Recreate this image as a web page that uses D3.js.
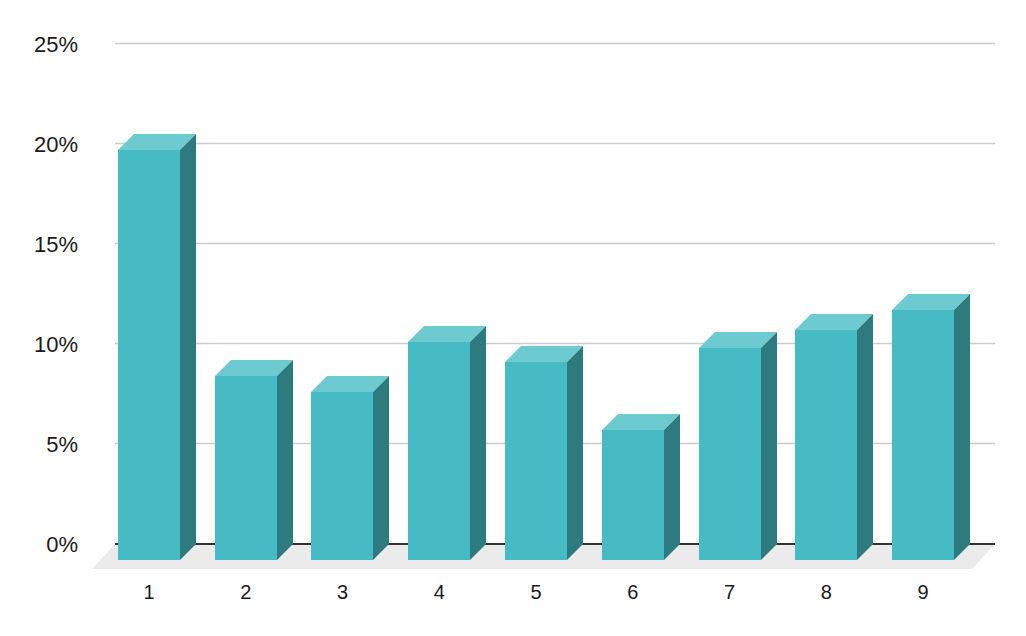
<!DOCTYPE html>
<html>
<head>
<meta charset="utf-8">
<script src="https://cdn.jsdelivr.net/npm/d3@7"></script>
<style>
  html, body { margin: 0; padding: 0; background: #fff; }
  svg { display: block; font-family: Arial, "Liberation Sans", sans-serif; }
</style>
</head>
<body>
<svg id="chart" width="1026" height="636"></svg>
<script>
const categories = ["1", "2", "3", "4", "5", "6", "7", "8", "9"];
const values = [20.5, 9.2, 8.4, 10.9, 9.9, 6.5, 10.6, 11.5, 12.5];
const yTicks = [0, 5, 10, 15, 20, 25];
const yTickLabels = ["0%", "5%", "10%", "15%", "20%", "25%"];

const svg = d3.select("#chart");
const depth = 16;
const barW = 62;
const plotLeft = 115, plotRight = 995;

const y = d3.scaleLinear().domain([0, 25]).range([544, 44]);
const x = d3.scaleBand().domain(categories).range([100.6, 971.4]).padding(0);

// gridlines
svg.append("g").selectAll("line").data(yTicks.filter(t => t > 0)).join("line")
  .attr("x1", plotLeft).attr("x2", plotRight)
  .attr("y1", d => Math.round(y(d)) - 0.5).attr("y2", d => Math.round(y(d)) - 0.5)
  .attr("stroke", "#cccccc").attr("stroke-width", 1.5);

// y labels
svg.append("g").selectAll("text").data(yTicks).join("text")
  .attr("x", 78).attr("y", d => y(d) + 7.5)
  .attr("text-anchor", "end")
  .attr("font-size", 22).attr("fill", "#1a1a1a")
  .text((d, i) => yTickLabels[i]);

// floor
const fd = 24;
svg.append("path")
  .attr("d", `M${plotLeft},${y(0)}L${plotRight},${y(0)}L${plotRight - fd + 1},${y(0) + fd + 1}L${plotLeft - fd + 1},${y(0) + fd + 1}Z`)
  .attr("fill", "#ebebeb");

// zero line
svg.append("line")
  .attr("x1", plotLeft).attr("x2", plotRight)
  .attr("y1", y(0)).attr("y2", y(0))
  .attr("stroke", "#333").attr("stroke-width", 2);

// bars
const bars = svg.append("g").selectAll("g").data(categories).join("g");
bars.each(function(c, i) {
  const g = d3.select(this);
  const xb = Math.round(x(c) + x.bandwidth() / 2 - barW / 2);
  const yf = y(values[i]) + depth;
  const yb = y(0) + depth;
  g.append("rect").attr("x", xb).attr("y", yf).attr("width", barW).attr("height", yb - yf)
    .attr("fill", "#47bbc4");
  g.append("path")
    .attr("d", `M${xb},${yf}L${xb + depth},${yf - depth}L${xb + barW + depth},${yf - depth}L${xb + barW},${yf}Z`)
    .attr("fill", "#6dcad0");
  g.append("path")
    .attr("d", `M${xb + barW},${yf}L${xb + barW + depth},${yf - depth}L${xb + barW + depth},${yb - depth}L${xb + barW},${yb}Z`)
    .attr("fill", "#2e7b7f");
});

// x labels
svg.append("g").selectAll("text").data(categories).join("text")
  .attr("x", d => x(d) + x.bandwidth() / 2)
  .attr("y", 599)
  .attr("text-anchor", "middle")
  .attr("font-size", 20).attr("fill", "#1a1a1a")
  .text(d => d);
</script>
</body>
</html>
